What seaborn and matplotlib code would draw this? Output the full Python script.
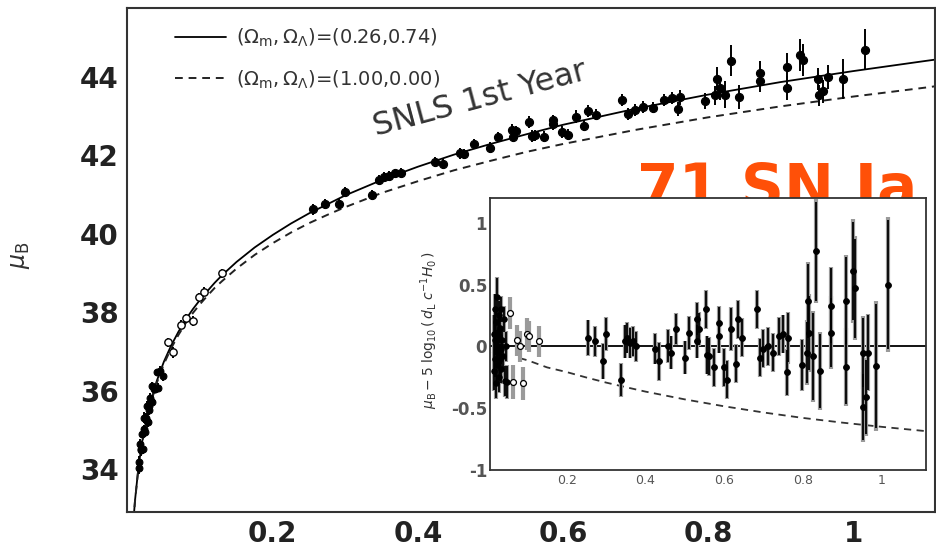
import numpy as np
import pandas as pd
import matplotlib
matplotlib.use("Agg")
import matplotlib.pyplot as plt
import seaborn as sns
from matplotlib.ticker import MultipleLocator

# ---------------- data ----------------
# model curves (main panel)
curve_z = [0.008, 0.01, 0.015, 0.02, 0.03, 0.04, 0.05, 0.06, 0.07, 0.08, 0.09, 0.10, 0.11, 0.12, 0.13,
           0.15, 0.175, 0.20, 0.225, 0.25, 0.275, 0.30, 0.35, 0.40, 0.45, 0.50, 0.55, 0.60, 0.70,
           0.80, 0.90, 1.00, 1.10, 1.12]
mu_lcdm = [32.69, 33.18, 34.07, 34.70, 35.60, 36.24, 36.74, 37.15, 37.50, 37.81, 38.08, 38.32, 38.54,
           38.75, 38.94, 39.28, 39.65, 39.97, 40.26, 40.52, 40.75, 40.98, 41.37, 41.71, 42.02, 42.29,
           42.54, 42.78, 43.19, 43.55, 43.87, 44.15, 44.41, 44.46]
mu_eds = [32.68, 33.16, 34.05, 34.68, 35.56, 36.19, 36.68, 37.08, 37.42, 37.72, 37.98, 38.21, 38.42,
          38.62, 38.79, 39.11, 39.46, 39.76, 40.03, 40.27, 40.48, 40.68, 41.04, 41.34, 41.62, 41.86,
          42.09, 42.29, 42.65, 42.97, 43.25, 43.50, 43.73, 43.78]

# residual curve (inset)
res_curve_z = [0.08, 0.10, 0.15, 0.20, 0.25, 0.30, 0.35, 0.40, 0.50, 0.60, 0.70, 0.80, 0.90, 1.00, 1.10, 1.12]
res_eds = [-0.095, -0.112, -0.17, -0.208, -0.252, -0.293, -0.330, -0.366, -0.429, -0.485,
           -0.535, -0.579, -0.617, -0.651, -0.682, -0.688]
res_zero_z = [0.0, 1.12]
res_zero = [0.0, 0.0]

# nearby SNe, very low z (drawn filled)
lowz_z = [0.015, 0.016, 0.017, 0.018, 0.019, 0.020, 0.021, 0.022, 0.023, 0.024, 0.025, 0.026, 0.027,
          0.028, 0.029, 0.030, 0.031, 0.032, 0.033, 0.034, 0.036, 0.038, 0.040, 0.042, 0.045, 0.048]
lowz_mu = [34.17, 34.01, 34.64, 34.52, 34.49, 34.90, 34.51, 35.31, 35.01, 34.95, 35.31, 35.23, 35.61,
           35.19, 35.60, 35.50, 35.82, 35.72, 36.11, 35.70, 36.05, 36.04, 36.46, 36.07, 36.50, 36.36]
lowz_res = [0.10, -0.20, 0.30, 0.05, -0.10, 0.20, -0.30, 0.40, 0.00, -0.15, 0.12, -0.05, 0.25,
            -0.25, 0.08, -0.10, 0.15, -0.02, 0.30, -0.18, 0.05, -0.08, 0.22, -0.28, 0.00, -0.29]
lowz_err = [0.15, 0.15, 0.12, 0.12, 0.15, 0.12, 0.12, 0.15, 0.12, 0.13, 0.12, 0.12, 0.12,
            0.12, 0.12, 0.12, 0.12, 0.12, 0.10, 0.12, 0.10, 0.10, 0.10, 0.12, 0.12, 0.13]

# nearby SNe, intermediate z (open circles)
midz_z = [0.055, 0.063, 0.074, 0.081, 0.090, 0.098, 0.105, 0.130]
midz_mu = [37.23, 36.97, 37.68, 37.84, 37.78, 38.38, 38.52, 38.99]
midz_res = [0.27, -0.29, 0.05, 0.00, -0.30, 0.10, 0.08, 0.04]
midz_err = [0.12, 0.13, 0.12, 0.12, 0.13, 0.12, 0.12, 0.12]

# SNLS 1st year SNe
snls_z = [0.255, 0.272, 0.291, 0.299, 0.337, 0.347, 0.354, 0.360, 0.369, 0.377,
          0.424, 0.435, 0.458, 0.464, 0.477, 0.500, 0.511, 0.530, 0.536, 0.531,
          0.553, 0.557, 0.562, 0.574, 0.587, 0.587, 0.599, 0.607, 0.618, 0.629,
          0.635, 0.646, 0.682, 0.690, 0.699, 0.711, 0.724, 0.739, 0.750, 0.758,
          0.762, 0.796, 0.809, 0.813, 0.816, 0.824, 0.832, 0.843, 0.872, 0.872,
          0.909, 0.909, 0.927, 0.931, 0.951, 0.953, 0.959, 0.965, 0.986, 1.016]
snls_mu = [40.63, 40.76, 40.77, 41.07, 40.99, 41.38, 41.46, 41.47, 41.54, 41.55,
           41.83, 41.79, 42.05, 42.03, 42.30, 42.20, 42.46, 42.66, 42.61, 42.48,
           42.85, 42.50, 42.51, 42.48, 42.90, 42.79, 42.60, 42.53, 42.99, 42.76,
           43.14, 43.04, 43.41, 43.06, 43.16, 43.23, 43.22, 43.41, 43.47, 43.19,
           43.48, 43.38, 43.53, 43.96, 43.71, 43.55, 44.42, 43.49, 44.11, 43.89,
           44.26, 43.72, 44.56, 44.43, 43.96, 43.53, 43.63, 44.00, 43.95, 44.70]
snls_res = [0.07, 0.04, -0.12, 0.10, -0.27, 0.04, 0.07, 0.03, 0.04, 0.00,
            -0.02, -0.12, 0.00, -0.05, 0.14, -0.09, 0.11, 0.22, 0.14, 0.04,
            0.30, -0.07, -0.08, -0.17, 0.19, 0.08, -0.17, -0.27, 0.14, -0.14,
            0.22, 0.07, 0.30, -0.09, -0.02, 0.00, -0.05, 0.08, 0.10, -0.21,
            0.07, -0.15, -0.05, 0.37, 0.11, -0.08, 0.77, -0.20, 0.33, 0.11,
            0.37, -0.17, 0.61, 0.47, -0.05, -0.49, -0.41, -0.05, -0.16, 0.50]
snls_err = [0.14, 0.12, 0.14, 0.13, 0.13, 0.13, 0.12, 0.12, 0.12, 0.12,
            0.12, 0.15, 0.13, 0.13, 0.12, 0.13, 0.13, 0.13, 0.13, 0.13,
            0.15, 0.15, 0.15, 0.15, 0.13, 0.13, 0.15, 0.15, 0.17, 0.15,
            0.15, 0.15, 0.15, 0.15, 0.15, 0.15, 0.15, 0.15, 0.15, 0.18,
            0.20, 0.20, 0.25, 0.30, 0.30, 0.35, 0.40, 0.30, 0.30, 0.28,
            0.35, 0.30, 0.40, 0.40, 0.28, 0.27, 0.30, 0.30, 0.50, 0.52]

legend_labels = [r"$(\Omega_{\rm m},\Omega_\Lambda)$=(0.26,0.74)",
                 r"$(\Omega_{\rm m},\Omega_\Lambda)$=(1.00,0.00)"]
main_xticks = [0.2, 0.4, 0.6, 0.8, 1.0]
main_xticklabels = ["0.2", "0.4", "0.6", "0.8", "1"]
main_yticks = [34, 36, 38, 40, 42, 44]
inset_yticks = [-1, -0.5, 0, 0.5, 1]
inset_yticklabels = ["-1", "-0.5", "0", "0.5", "1"]

# ---------------- tables ----------------
curves = pd.DataFrame({"z": curve_z, "lcdm": mu_lcdm, "eds": mu_eds})
rescurve = pd.DataFrame({"z": res_curve_z, "eds": res_eds})
lowz = pd.DataFrame({"z": lowz_z, "mu": lowz_mu, "res": lowz_res, "err": lowz_err})
midz = pd.DataFrame({"z": midz_z, "mu": midz_mu, "res": midz_res, "err": midz_err})
snls = pd.DataFrame({"z": snls_z, "mu": snls_mu, "res": snls_res, "err": snls_err})

# ---------------- figure ----------------
sns.set_style("white")
plt.rcParams["font.family"] = ["DejaVu Sans"]
plt.rcParams["mathtext.fontset"] = "dejavusans"

fig = plt.figure(figsize=(9.37, 5.49), dpi=100)
ax = fig.add_axes([0.1355, 0.0674, 0.8624, 0.918])

sns.lineplot(data=curves, x="z", y="lcdm", ax=ax, color="black", lw=1.3,
             sort=False, estimator=None, label=legend_labels[0])
sns.lineplot(data=curves, x="z", y="eds", ax=ax, color="#222222", lw=1.4,
             sort=False, estimator=None, label=legend_labels[1])
ax.lines[1].set_dashes((4, 3))

ek = dict(fmt="none", ecolor="black", elinewidth=1.4, capsize=0, zorder=3)
ax.errorbar(lowz["z"], lowz["mu"], yerr=lowz["err"], **ek)
ax.errorbar(midz["z"], midz["mu"], yerr=midz["err"], **ek)
ax.errorbar(snls["z"], snls["mu"], yerr=snls["err"], **ek)
sns.scatterplot(data=lowz, x="z", y="mu", ax=ax, color="black", s=24, edgecolor="black",
                linewidth=0.8, zorder=4)
sns.scatterplot(data=midz, x="z", y="mu", ax=ax, facecolor="white", s=28, edgecolor="black",
                linewidth=1.0, zorder=4)
sns.scatterplot(data=snls, x="z", y="mu", ax=ax, color="black", s=34, edgecolor="black",
                linewidth=0.8, zorder=4)

ax.set_xlim(-0.001, 1.113)
ax.set_ylim(32.90, 45.76)
ax.set_xlabel("")
ax.set_ylabel(r"$\mu_{\rm B}$", fontsize=17, color="#333333")
ax.yaxis.set_label_coords(-0.118, 0.51)

ax.set_xticks(main_xticks)
ax.set_xticklabels(main_xticklabels, fontsize=20, fontweight="bold", color="#222222")
ax.set_yticks(main_yticks)
ax.set_yticklabels([str(v) for v in main_yticks], fontsize=20, fontweight="bold", color="#222222")
ax.xaxis.set_minor_locator(MultipleLocator(0.05))
ax.yaxis.set_minor_locator(MultipleLocator(0.5))
ax.tick_params(axis="y", which="major", direction="in", length=16.5, width=1.3, color="#444444", pad=6)
ax.tick_params(axis="y", which="minor", direction="in", length=9.4, width=1.2, color="#444444")
ax.tick_params(axis="x", which="major", direction="in", length=12, width=1.3, color="#444444", pad=6)
ax.tick_params(axis="x", which="minor", direction="in", length=6, width=1.2, color="#444444")
for sp in ax.spines.values():
    sp.set_color("#333333")
    sp.set_linewidth(1.5)

leg = ax.legend(handles=ax.lines[:2], labels=legend_labels, loc="upper left",
                bbox_to_anchor=(0.038, 0.998), frameon=False, fontsize=14,
                handlelength=2.6, handletextpad=0.55, labelspacing=1.0)
for t in leg.get_texts():
    t.set_color("#333333")

ax.text(0.437, 0.818, "SNLS 1st Year", transform=ax.transAxes, rotation=15,
        ha="center", va="center", fontsize=23, color="#333333", rotation_mode="anchor")
ax.text(0.631, 0.605, "71 SN Ia", transform=ax.transAxes, ha="left", va="baseline",
        fontsize=43, fontweight="bold", color="#FF5008", zorder=10)

# ---------------- inset ----------------
axi = fig.add_axes([0.5229, 0.1439, 0.4654, 0.4954])
axi.set_facecolor("white")
sns.lineplot(x=res_zero_z, y=res_zero, ax=axi, color="black", lw=1.3)
sns.lineplot(data=rescurve, x="z", y="eds", ax=axi, color="#333333", lw=1.3,
             sort=False, estimator=None)
axi.lines[1].set_dashes((4, 3))

gk = dict(fmt="none", ecolor="#9a9a9a", elinewidth=3.0, capsize=0, zorder=2)
bk = dict(fmt="none", ecolor="black", elinewidth=1.3, capsize=0, zorder=3)
for d in (lowz, midz, snls):
    axi.errorbar(d["z"], d["res"], yerr=d["err"] * 1.05, **gk)
axi.errorbar(lowz["z"], lowz["res"], yerr=lowz["err"], **bk)
axi.errorbar(snls["z"], snls["res"], yerr=snls["err"], **bk)
sns.scatterplot(data=lowz, x="z", y="res", ax=axi, color="black", s=16, edgecolor="black",
                linewidth=0.6, zorder=4)
sns.scatterplot(data=midz, x="z", y="res", ax=axi, facecolor="white", s=18, edgecolor="black",
                linewidth=0.9, zorder=4)
sns.scatterplot(data=snls, x="z", y="res", ax=axi, color="black", s=18, edgecolor="black",
                linewidth=0.6, zorder=4)

axi.set_xlim(0.005, 1.112)
axi.set_ylim(-1.0, 1.2)
axi.set_xlabel("")
axi.set_ylabel(r"$\mu_{\rm B} - 5\ \log_{10}(\,d_{\rm L}\ c^{-1}H_0\,)$", fontsize=10, color="#333333")
axi.yaxis.set_label_coords(-0.115, 0.515)
axi.set_xticks(main_xticks)
axi.set_xticklabels(main_xticklabels, fontsize=9, color="#555555")
axi.set_yticks(inset_yticks)
axi.set_yticklabels(inset_yticklabels, fontsize=12, fontweight="bold", color="#555555")
axi.xaxis.set_minor_locator(MultipleLocator(0.05))
axi.yaxis.set_minor_locator(MultipleLocator(0.1))
axi.tick_params(axis="y", which="major", direction="in", length=11, width=1.2, color="#555555", pad=2)
axi.tick_params(axis="y", which="minor", direction="in", length=7, width=1.1, color="#555555")
axi.tick_params(axis="x", which="major", direction="in", length=5, width=1.1, color="#555555", pad=3)
axi.tick_params(axis="x", which="minor", direction="in", length=3, width=1.0, color="#555555")
for sp in axi.spines.values():
    sp.set_color("#333333")
    sp.set_linewidth(1.3)
if axi.get_legend() is not None:
    axi.get_legend().remove()

fig.savefig("out.png", dpi=100)
